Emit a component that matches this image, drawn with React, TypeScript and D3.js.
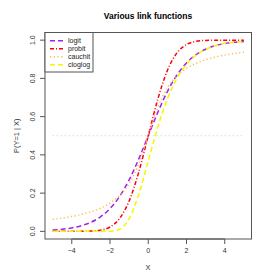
import React from "react";
import * as d3 from "d3";

// x grid of the curves
const xs = [-5, -4.5, -4, -3.5, -3, -2.5, -2, -1.5, -1, -0.5, 0, 0.5, 1, 1.5, 2, 2.5, 3, 3.5, 4, 4.5, 5];

const logit = [0.0067, 0.011, 0.018, 0.0293, 0.0474, 0.0759, 0.1192, 0.1824, 0.2689, 0.3775, 0.5,
  0.6225, 0.7311, 0.8176, 0.8808, 0.9241, 0.9526, 0.9707, 0.982, 0.989, 0.9933];
const probit = [0, 0, 0, 0.0002, 0.0013, 0.0062, 0.0228, 0.0668, 0.1587, 0.3085, 0.5,
  0.6915, 0.8413, 0.9332, 0.9772, 0.9938, 0.9987, 0.9998, 1, 1, 1];
const cauchit = [0.0628, 0.0696, 0.078, 0.0886, 0.1024, 0.1211, 0.1476, 0.1872, 0.25, 0.3524, 0.5,
  0.6476, 0.75, 0.8128, 0.8524, 0.8789, 0.8976, 0.9114, 0.922, 0.9304, 0.9372];
const cloglog = [0, 0, 0, 0, 0, 0, 0.0006, 0.0113, 0.066, 0.1923, 0.3679,
  0.5452, 0.6922, 0.8, 0.8734, 0.9212, 0.9514, 0.9703, 0.9819, 0.989, 0.9933];

const seriesNames = ["logit", "probit", "cauchit", "cloglog"];
const seriesColors = ["#A020F0", "#FF0000", "#FFB84D", "#F5F500"];
const seriesDash = ["5,3", "4,2,1,2", "1.2,2.5", "5,3"];
const seriesValues = [logit, probit, cauchit, cloglog];

const xTicks = [-4, -2, 0, 2, 4];
const yTicks = [0, 0.2, 0.4, 0.6, 0.8, 1];

const L = 45, R = 251.5, T = 32.5, B = 239;

export default function App() {
  const x = d3.scaleLinear().domain([-5.4, 5.4]).range([L, R]);
  const y = d3.scaleLinear().domain([-0.04, 1.04]).range([B, T]);
  const line = d3
    .line<number>()
    .x((d, i) => x(xs[i]))
    .y((d) => y(d))
    .curve(d3.curveMonotoneX);
  const font = "Liberation Sans, Arial, sans-serif";

  return (
    <svg
      width={280}
      height={280}
      style={{ position: "absolute", left: 0, top: 0, background: "white" }}
      fontFamily={font}
    >
      <text x={148} y={19} textAnchor="middle" fontSize={8.5} fontWeight="bold" fill="#000">
        Various link functions
      </text>

      {/* reference line at 0.5 */}
      <line x1={x(-5)} x2={x(5)} y1={y(0.5)} y2={y(0.5)} stroke="#d8d8d8" strokeWidth={1.2} strokeDasharray="1.5,2.5" />

      {seriesValues.map((vals, k) => (
        <path
          key={seriesNames[k]}
          d={line(vals) || ""}
          fill="none"
          stroke={seriesColors[k]}
          strokeWidth={1.5}
          strokeDasharray={seriesDash[k]}
        />
      ))}

      <rect x={L} y={T} width={R - L} height={B - T} fill="none" stroke="#555" strokeWidth={1} />

      {/* x axis */}
      <line x1={x(-4)} x2={x(4)} y1={B} y2={B} stroke="#555" />
      {xTicks.map((t) => (
        <g key={t}>
          <line x1={x(t)} x2={x(t)} y1={B} y2={B + 5} stroke="#555" />
          <text x={x(t)} y={B + 14} textAnchor="middle" fontSize={7} fill="#333">
            {t === 0 ? "0" : t < 0 ? "\u2212" + Math.abs(t) : String(t)}
          </text>
        </g>
      ))}
      <text x={148} y={270} textAnchor="middle" fontSize={7.5} fill="#333">X</text>

      {/* y axis */}
      {yTicks.map((t) => (
        <g key={t}>
          <line x1={L - 5} x2={L} y1={y(t)} y2={y(t)} stroke="#555" />
          <text
            transform={`translate(${L - 10},${y(t)}) rotate(-90)`}
            textAnchor="middle"
            fontSize={7}
            fill="#333"
          >
            {t.toFixed(1)}
          </text>
        </g>
      ))}
      <text transform={`translate(19,${(T + B) / 2}) rotate(-90)`} textAnchor="middle" fontSize={7.5} fill="#333">
        P(Y=1 | X)
      </text>

      {/* legend */}
      <rect x={L} y={T} width={48} height={39.5} fill="white" stroke="#555" strokeWidth={1} />
      {seriesNames.map((n, k) => (
        <g key={n}>
          <line
            x1={50}
            x2={64}
            y1={40.7 + k * 8}
            y2={40.7 + k * 8}
            stroke={seriesColors[k]}
            strokeWidth={1.5}
            strokeDasharray={seriesDash[k]}
          />
          <text x={68} y={43.2 + k * 8} fontSize={7} fill="#222">{n}</text>
        </g>
      ))}
    </svg>
  );
}
